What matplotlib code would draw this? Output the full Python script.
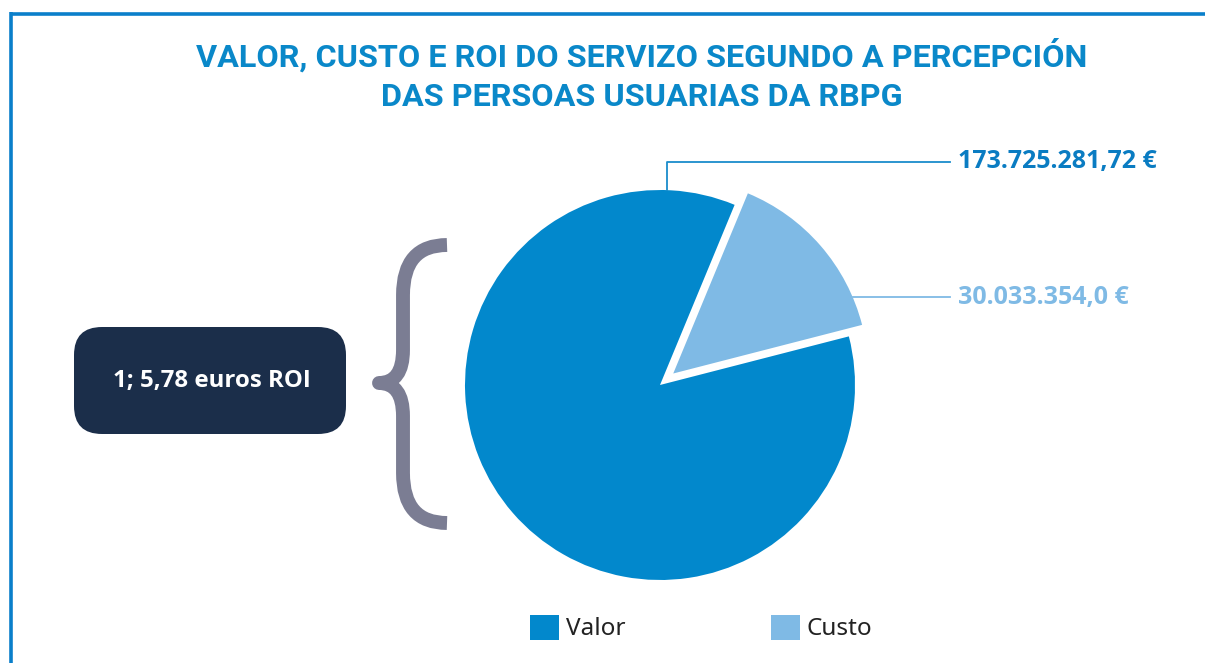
import numpy as np
import matplotlib.pyplot as plt
from matplotlib.patches import FancyBboxPatch, PathPatch
from matplotlib.path import Path

# data
categories = ['Valor', 'Custo']
values = [173725281.72, 30033354.0]
value_labels = ['173.725.281,72 €', '30.033.354,0 €']
roi_text = '1; 5,78 euros ROI'
title = 'VALOR, CUSTO E ROI DO SERVIZO SEGUNDO A PERCEPCIÓN\nDAS PERSOAS USUARIAS DA RBPG'

col_valor = '#0288cc'
col_custo = '#7fbae5'
colors = [col_valor, col_custo]
label_colors = ['#0a7cc2', '#7fbae5']

W, H = 1205, 663
fig = plt.figure(figsize=(W / 100, H / 100), dpi=100)

# background axes in pixel units (y measured from top)
bg = fig.add_axes([0, 0, 1, 1])
bg.set_xlim(0, W)
bg.set_ylim(0, H)
bg.axis('off')

def Y(y):
    return H - y

# frame
bg.plot([11, W], [Y(13.5), Y(13.5)], color='#0a7fca', lw=2.6, solid_capstyle='butt')
bg.plot([11, 11], [Y(12), 0], color='#0a7fca', lw=2.6, solid_capstyle='butt')

bg.text(642, Y(75), title, ha='center', va='center', fontsize=23.3, fontweight='bold',
        color='#0a88c9', family='Roboto', linespacing=1.42)

# ROI box
box = FancyBboxPatch((74, Y(434)), 272, 107, boxstyle='round,pad=0,rounding_size=28',
                     fc='#1b2e4a', ec='none')
bg.add_patch(box)
bg.text(212, Y(381), roi_text, ha='center', va='center', fontsize=17.3, fontweight='bold',
        color='white', family='Open Sans')

# brace
verts = [(447, 245), (403, 245), (403, 295), (403, 350), (403, 383), (379, 383),
         (403, 383), (403, 416), (403, 473), (403, 523), (447, 523)]
codes = [Path.MOVETO, Path.CURVE3, Path.CURVE3, Path.LINETO, Path.CURVE3, Path.CURVE3,
         Path.CURVE3, Path.CURVE3, Path.LINETO, Path.CURVE3, Path.CURVE3]
verts = [(x, Y(y)) for x, y in verts]
bg.add_patch(PathPatch(Path(verts, codes), fc='none', ec='#7b7d93', lw=10,
                       capstyle='butt', joinstyle='round'))

# pie
cx, cy, r = 660, 385, 195
lim = 1.25
side = 2 * lim * r
ax = fig.add_axes([(cx - lim * r) / W, (H - cy - lim * r) / H, side / W, side / H])
wedges, _ = ax.pie(values, colors=colors, startangle=67.5, explode=[0, 0.09],
                   wedgeprops=dict(linewidth=0))
ax.set_xlim(-lim, lim)
ax.set_ylim(-lim, lim)
ax.set_aspect('equal')
ax.axis('off')

x_end = (950 - cx) / r
x_text = (958 - cx) / r
# Valor leader
a = np.deg2rad(88)
ctr = wedges[0].center
p0 = (ctr[0] + np.cos(a), ctr[1] + np.sin(a))
y1 = (cy - 162) / r
ax.plot([p0[0], p0[0], x_end], [p0[1], y1, y1], color='#1a8ccc', lw=1.3, clip_on=False)
ax.text(x_text, y1, value_labels[0], ha='left', va='center', fontsize=18,
        fontweight='bold', color=label_colors[0], family='Open Sans', clip_on=False)
# Custo leader
a = np.deg2rad(23)
ctr = wedges[1].center
p1 = (ctr[0] + np.cos(a), ctr[1] + np.sin(a))
ax.plot([p1[0], x_end], [p1[1], p1[1]], color=col_custo, lw=1.3, clip_on=False)
ax.text(x_text, p1[1], value_labels[1], ha='left', va='center', fontsize=18,
        fontweight='bold', color=label_colors[1], family='Open Sans', clip_on=False)

# legend
leg = fig.legend(wedges, categories, loc='center', bbox_to_anchor=(701 / W, 1 - 628 / H),
                 ncol=2, frameon=False, handlelength=1.2, handleheight=1.2,
                 columnspacing=6.0, handletextpad=0.25,
                 prop={'family': 'Noto Sans', 'size': 17.5})
for t in leg.get_texts():
    t.set_color('#222222')

fig.savefig('out.png', dpi=100)
